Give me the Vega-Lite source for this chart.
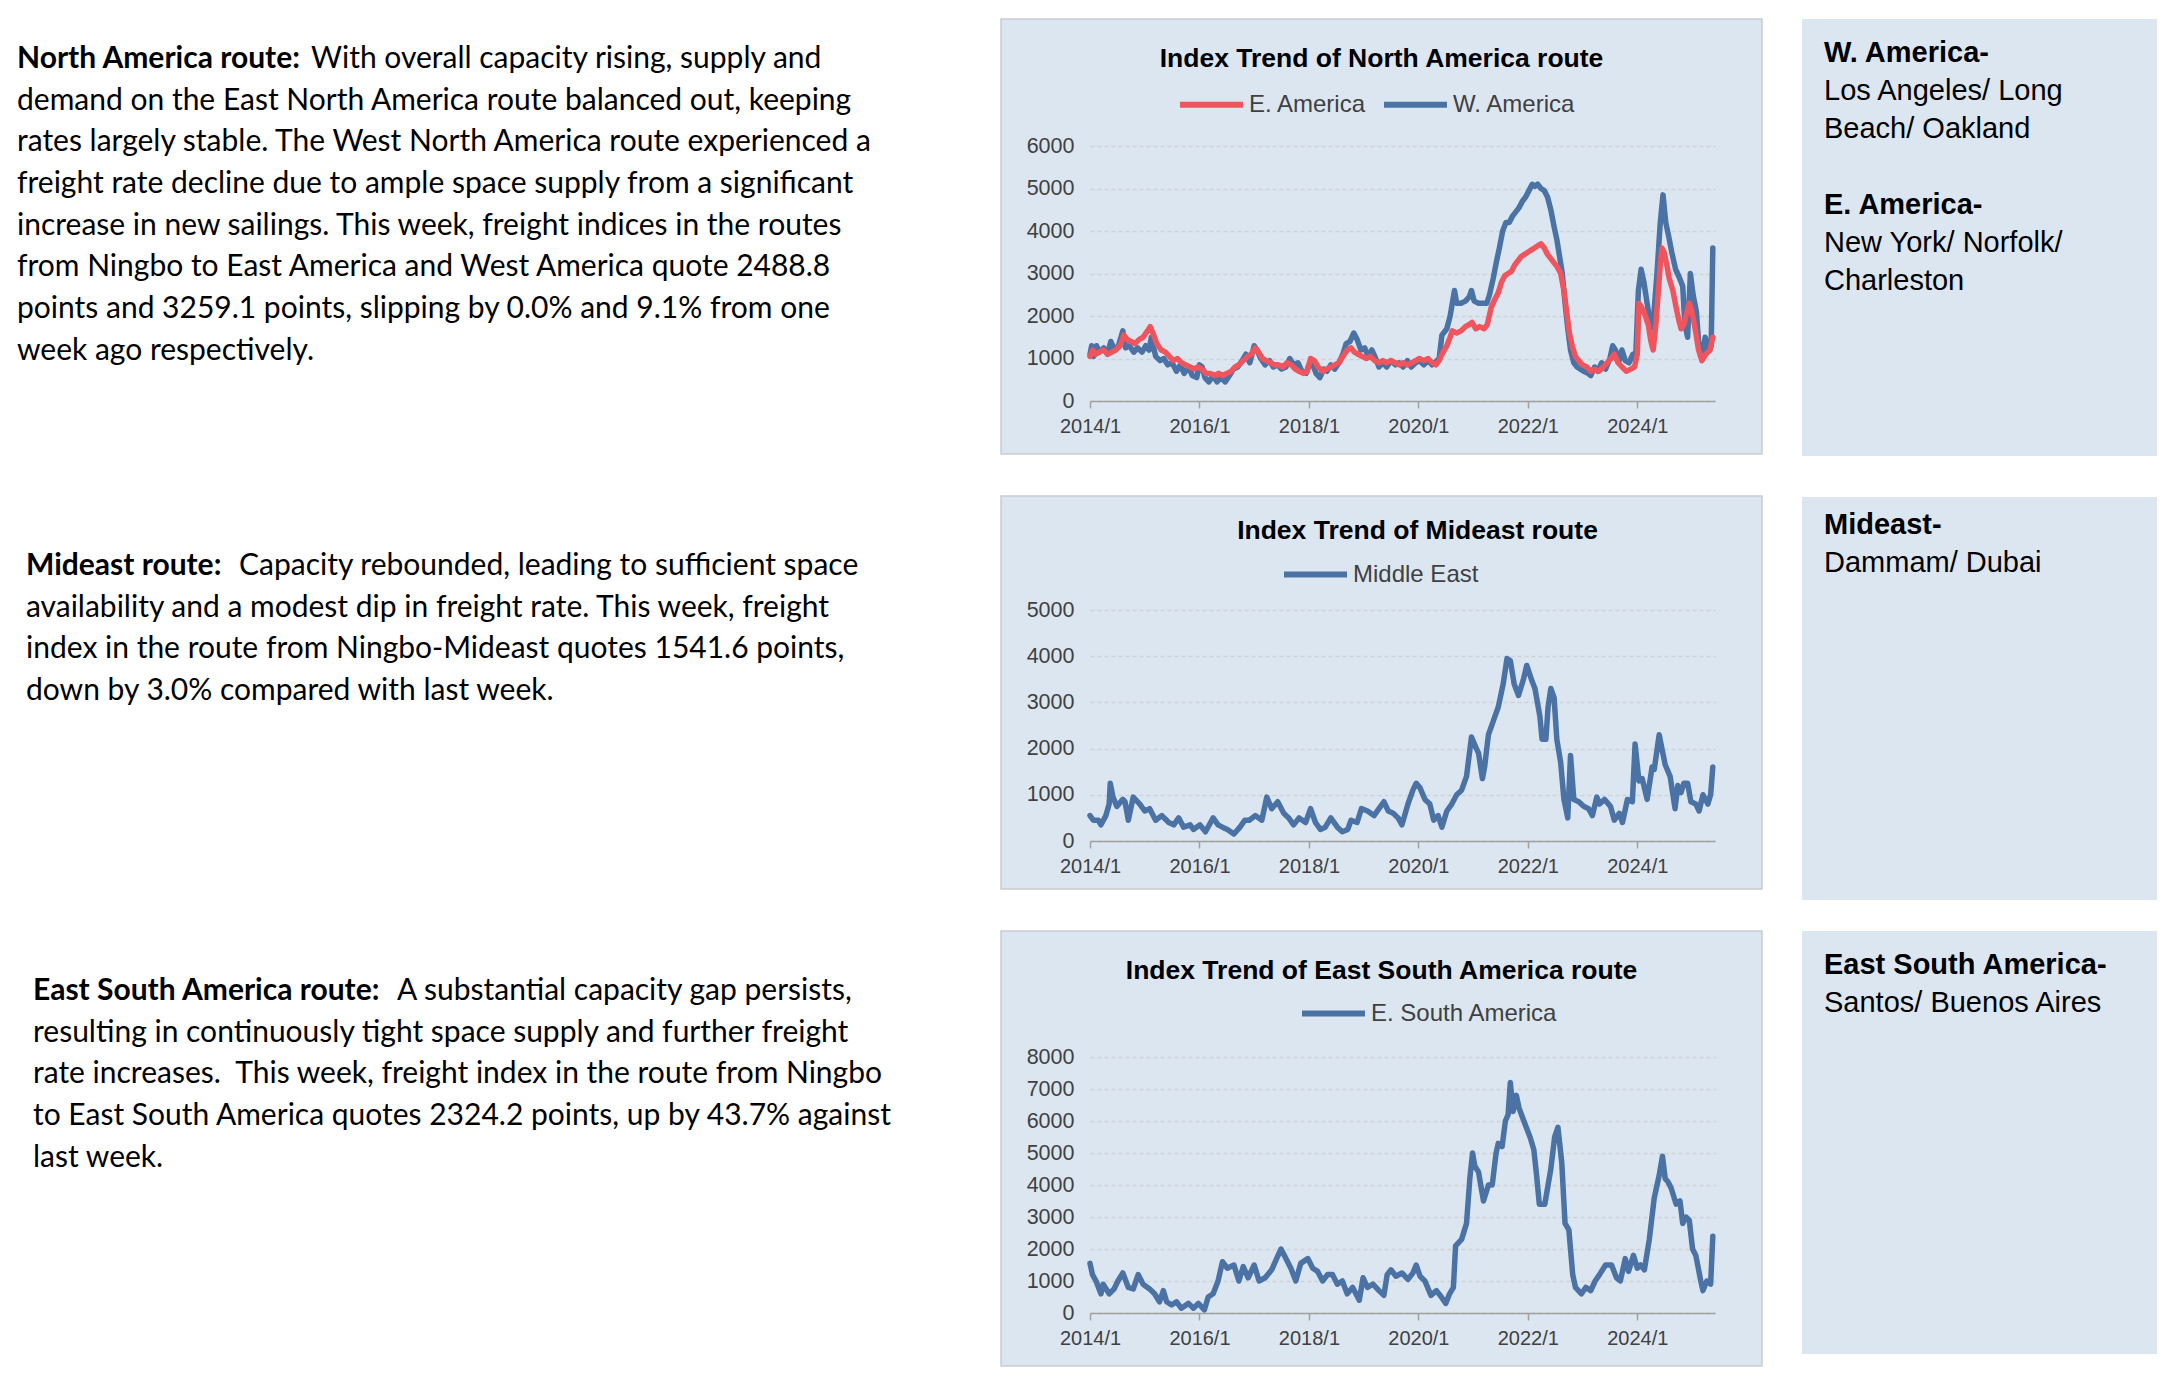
{
"$schema": "https://vega.github.io/schema/vega-lite/v6.json",
"background": "white",
"padding": {"left": 0, "top": 18, "right": 0, "bottom": 0},
"spacing": 39,
"resolve": {"scale": {"color": "independent"}, "legend": {"color": "independent"}},
"config": {
  "view": {"stroke": null},
  "font": "Liberation Sans",
  "axis": {"labelFont": "Liberation Sans", "labelColor": "#404040", "title": null, "labelFlush": false},
  "legend": {"labelFont": "Liberation Sans", "labelColor": "#404040", "labelFontSize": 24, "labelLimit": 500, "symbolType": "stroke", "symbolSize": 3969, "symbolStrokeWidth": 6, "labelOffset": 3, "columnPadding": 5, "padding": 0, "direction": "horizontal", "title": null, "orient": "none"}
},
"hconcat": [
{
  "spacing": 42,
  "vconcat": [
  {
    "width": 961, "height": 435,
    "encoding": {
      "x": {"datum": 0, "type": "quantitative", "scale": {"domain": [-17, 944], "nice": false}, "axis": null},
      "y": {"field": "line", "type": "quantitative", "scale": {"domain": [0.041, 10.473], "nice": false, "reverse": true}, "axis": null},
      "text": {"field": "text", "type": "nominal"}
    },
    "layer": [
      {"data": {"values": [{"line": 1, "text": "North America route:"}]},
       "mark": {"type": "text", "align": "left", "baseline": "middle", "font": "Lato", "fontSize": 30, "fontWeight": "bold", "color": "#000000"}},
      {"data": {"values": [{"line": 1, "text": "With overall capacity rising, supply and"}]},
       "mark": {"type": "text", "align": "left", "baseline": "middle", "font": "Lato", "fontSize": 30, "color": "#000000", "dx": 294}},
      {"data": {"values": [
        {"line": 2, "text": "demand on the East North America route balanced out, keeping"},
        {"line": 3, "text": "rates largely stable. The West North America route experienced a"},
        {"line": 4, "text": "freight rate decline due to ample space supply from a significant"},
        {"line": 5, "text": "increase in new sailings. This week, freight indices in the routes"},
        {"line": 6, "text": "from Ningbo to East America and West America quote 2488.8"},
        {"line": 7, "text": "points and 3259.1 points, slipping by 0.0% and 9.1% from one"},
        {"line": 8, "text": "week ago respectively."}]},
       "mark": {"type": "text", "align": "left", "baseline": "middle", "font": "Lato", "fontSize": 30, "color": "#000000"}}
    ]
  },
  {
    "width": 961, "height": 395,
    "encoding": {
      "x": {"datum": 0, "type": "quantitative", "scale": {"domain": [-26, 935], "nice": false}, "axis": null},
      "y": {"field": "line", "type": "quantitative", "scale": {"domain": [-0.679, 8.793], "nice": false, "reverse": true}, "axis": null},
      "text": {"field": "text", "type": "nominal"}
    },
    "layer": [
      {"data": {"values": [{"line": 1, "text": "Mideast route:"}]},
       "mark": {"type": "text", "align": "left", "baseline": "middle", "font": "Lato", "fontSize": 30, "fontWeight": "bold", "color": "#000000"}},
      {"data": {"values": [{"line": 1, "text": "Capacity rebounded, leading to sufficient space"}]},
       "mark": {"type": "text", "align": "left", "baseline": "middle", "font": "Lato", "fontSize": 30, "color": "#000000", "dx": 213}},
      {"data": {"values": [
        {"line": 2, "text": "availability and a modest dip in freight rate. This week, freight"},
        {"line": 3, "text": "index in the route from Ningbo-Mideast quotes 1541.6 points,"},
        {"line": 4, "text": "down by 3.0% compared with last week."}]},
       "mark": {"type": "text", "align": "left", "baseline": "middle", "font": "Lato", "fontSize": 30, "color": "#000000"}}
    ]
  },
  {
    "width": 961, "height": 433,
    "encoding": {
      "x": {"datum": 0, "type": "quantitative", "scale": {"domain": [-33, 928], "nice": false}, "axis": null},
      "y": {"field": "line", "type": "quantitative", "scale": {"domain": [-0.391, 9.993], "nice": false, "reverse": true}, "axis": null},
      "text": {"field": "text", "type": "nominal"}
    },
    "layer": [
      {"data": {"values": [{"line": 1, "text": "East South America route:"}]},
       "mark": {"type": "text", "align": "left", "baseline": "middle", "font": "Lato", "fontSize": 30, "fontWeight": "bold", "color": "#000000"}},
      {"data": {"values": [{"line": 1, "text": "A substantial capacity gap persists,"}]},
       "mark": {"type": "text", "align": "left", "baseline": "middle", "font": "Lato", "fontSize": 30, "color": "#000000", "dx": 364}},
      {"data": {"values": [
        {"line": 2, "text": "resulting in continuously tight space supply and further freight"},
        {"line": 3, "text": "rate increases.\u00a0 This week, freight index in the route from Ningbo"},
        {"line": 4, "text": "to East South America quotes 2324.2 points, up by 43.7% against"},
        {"line": 5, "text": "last week."}]},
       "mark": {"type": "text", "align": "left", "baseline": "middle", "font": "Lato", "fontSize": 30, "color": "#000000"}}
    ]
  }
  ]
},
{
  "spacing": 40,
  "resolve": {"scale": {"color": "independent"}, "legend": {"color": "independent"}},
  "vconcat": [
  {
    "width": 761, "height": 435,
    "view": {"fill": "#dce6f1", "stroke": "#c9ccd0", "strokeWidth": 1.5},
    "title": {"text": "Index Trend of North America route", "anchor": "middle", "frame": "group", "offset": -66, "baseline": "middle", "fontSize": 26.5, "fontWeight": "bold", "font": "Liberation Sans", "color": "#000000"},
    "data": {"values": [
{"route":"W. America","time":2014.0,"index":1100},{"route":"W. America","time":2014.03,"index":1300},{"route":"W. America","time":2014.07,"index":1050},{"route":"W. America","time":2014.12,"index":1300},{"route":"W. America","time":2014.17,"index":1150},{"route":"W. America","time":2014.25,"index":1250},{"route":"W. America","time":2014.32,"index":1100},{"route":"W. America","time":2014.38,"index":1400},{"route":"W. America","time":2014.45,"index":1200},{"route":"W. America","time":2014.52,"index":1300},{"route":"W. America","time":2014.6,"index":1650},{"route":"W. America","time":2014.65,"index":1250},{"route":"W. America","time":2014.72,"index":1300},{"route":"W. America","time":2014.8,"index":1150},{"route":"W. America","time":2014.87,"index":1250},{"route":"W. America","time":2014.95,"index":1150},{"route":"W. America","time":2015.02,"index":1300},{"route":"W. America","time":2015.08,"index":1200},{"route":"W. America","time":2015.12,"index":1500},{"route":"W. America","time":2015.2,"index":1050},{"route":"W. America","time":2015.28,"index":950},{"route":"W. America","time":2015.35,"index":1000},{"route":"W. America","time":2015.42,"index":850},{"route":"W. America","time":2015.5,"index":900},{"route":"W. America","time":2015.58,"index":700},{"route":"W. America","time":2015.65,"index":850},{"route":"W. America","time":2015.72,"index":650},{"route":"W. America","time":2015.8,"index":800},{"route":"W. America","time":2015.87,"index":600},{"route":"W. America","time":2015.95,"index":550},{"route":"W. America","time":2016.0,"index":850},{"route":"W. America","time":2016.05,"index":800},{"route":"W. America","time":2016.1,"index":550},{"route":"W. America","time":2016.17,"index":450},{"route":"W. America","time":2016.25,"index":600},{"route":"W. America","time":2016.32,"index":450},{"route":"W. America","time":2016.4,"index":550},{"route":"W. America","time":2016.47,"index":450},{"route":"W. America","time":2016.55,"index":600},{"route":"W. America","time":2016.62,"index":750},{"route":"W. America","time":2016.7,"index":800},{"route":"W. America","time":2016.78,"index":950},{"route":"W. America","time":2016.85,"index":1100},{"route":"W. America","time":2016.92,"index":900},{"route":"W. America","time":2017.0,"index":1300},{"route":"W. America","time":2017.05,"index":1200},{"route":"W. America","time":2017.12,"index":1000},{"route":"W. America","time":2017.2,"index":850},{"route":"W. America","time":2017.28,"index":950},{"route":"W. America","time":2017.35,"index":800},{"route":"W. America","time":2017.42,"index":850},{"route":"W. America","time":2017.5,"index":750},{"route":"W. America","time":2017.58,"index":800},{"route":"W. America","time":2017.65,"index":1000},{"route":"W. America","time":2017.72,"index":850},{"route":"W. America","time":2017.8,"index":900},{"route":"W. America","time":2017.87,"index":700},{"route":"W. America","time":2017.95,"index":650},{"route":"W. America","time":2018.0,"index":850},{"route":"W. America","time":2018.07,"index":850},{"route":"W. America","time":2018.13,"index":650},{"route":"W. America","time":2018.2,"index":550},{"route":"W. America","time":2018.27,"index":750},{"route":"W. America","time":2018.33,"index":700},{"route":"W. America","time":2018.4,"index":850},{"route":"W. America","time":2018.47,"index":750},{"route":"W. America","time":2018.55,"index":900},{"route":"W. America","time":2018.62,"index":1100},{"route":"W. America","time":2018.68,"index":1350},{"route":"W. America","time":2018.75,"index":1400},{"route":"W. America","time":2018.82,"index":1600},{"route":"W. America","time":2018.88,"index":1450},{"route":"W. America","time":2018.95,"index":1200},{"route":"W. America","time":2019.02,"index":1250},{"route":"W. America","time":2019.08,"index":1050},{"route":"W. America","time":2019.15,"index":1200},{"route":"W. America","time":2019.22,"index":1000},{"route":"W. America","time":2019.28,"index":800},{"route":"W. America","time":2019.35,"index":900},{"route":"W. America","time":2019.42,"index":800},{"route":"W. America","time":2019.5,"index":950},{"route":"W. America","time":2019.58,"index":850},{"route":"W. America","time":2019.65,"index":900},{"route":"W. America","time":2019.72,"index":800},{"route":"W. America","time":2019.8,"index":950},{"route":"W. America","time":2019.87,"index":800},{"route":"W. America","time":2019.95,"index":900},{"route":"W. America","time":2020.02,"index":950},{"route":"W. America","time":2020.1,"index":850},{"route":"W. America","time":2020.18,"index":950},{"route":"W. America","time":2020.25,"index":850},{"route":"W. America","time":2020.3,"index":900},{"route":"W. America","time":2020.38,"index":1000},{"route":"W. America","time":2020.43,"index":1550},{"route":"W. America","time":2020.52,"index":1700},{"route":"W. America","time":2020.58,"index":2000},{"route":"W. America","time":2020.62,"index":2300},{"route":"W. America","time":2020.66,"index":2600},{"route":"W. America","time":2020.7,"index":2300},{"route":"W. America","time":2020.78,"index":2300},{"route":"W. America","time":2020.86,"index":2350},{"route":"W. America","time":2020.93,"index":2450},{"route":"W. America","time":2020.97,"index":2600},{"route":"W. America","time":2021.02,"index":2350},{"route":"W. America","time":2021.1,"index":2300},{"route":"W. America","time":2021.18,"index":2300},{"route":"W. America","time":2021.25,"index":2300},{"route":"W. America","time":2021.3,"index":2500},{"route":"W. America","time":2021.37,"index":2900},{"route":"W. America","time":2021.43,"index":3300},{"route":"W. America","time":2021.48,"index":3600},{"route":"W. America","time":2021.54,"index":4000},{"route":"W. America","time":2021.6,"index":4200},{"route":"W. America","time":2021.66,"index":4200},{"route":"W. America","time":2021.72,"index":4350},{"route":"W. America","time":2021.78,"index":4450},{"route":"W. America","time":2021.84,"index":4550},{"route":"W. America","time":2021.9,"index":4700},{"route":"W. America","time":2021.96,"index":4800},{"route":"W. America","time":2022.02,"index":4950},{"route":"W. America","time":2022.08,"index":5100},{"route":"W. America","time":2022.13,"index":5050},{"route":"W. America","time":2022.18,"index":5100},{"route":"W. America","time":2022.24,"index":5000},{"route":"W. America","time":2022.3,"index":4950},{"route":"W. America","time":2022.36,"index":4800},{"route":"W. America","time":2022.42,"index":4500},{"route":"W. America","time":2022.48,"index":4100},{"route":"W. America","time":2022.53,"index":3800},{"route":"W. America","time":2022.58,"index":3400},{"route":"W. America","time":2022.63,"index":3000},{"route":"W. America","time":2022.68,"index":2300},{"route":"W. America","time":2022.73,"index":1700},{"route":"W. America","time":2022.78,"index":1200},{"route":"W. America","time":2022.84,"index":900},{"route":"W. America","time":2022.9,"index":800},{"route":"W. America","time":2022.96,"index":750},{"route":"W. America","time":2023.02,"index":700},{"route":"W. America","time":2023.1,"index":650},{"route":"W. America","time":2023.15,"index":600},{"route":"W. America","time":2023.22,"index":800},{"route":"W. America","time":2023.28,"index":700},{"route":"W. America","time":2023.35,"index":900},{"route":"W. America","time":2023.42,"index":750},{"route":"W. America","time":2023.5,"index":1000},{"route":"W. America","time":2023.55,"index":1300},{"route":"W. America","time":2023.6,"index":1200},{"route":"W. America","time":2023.67,"index":950},{"route":"W. America","time":2023.72,"index":1200},{"route":"W. America","time":2023.78,"index":950},{"route":"W. America","time":2023.85,"index":900},{"route":"W. America","time":2023.92,"index":1100},{"route":"W. America","time":2023.97,"index":1000},{"route":"W. America","time":2024.02,"index":2600},{"route":"W. America","time":2024.07,"index":3100},{"route":"W. America","time":2024.12,"index":2800},{"route":"W. America","time":2024.18,"index":2300},{"route":"W. America","time":2024.25,"index":1700},{"route":"W. America","time":2024.3,"index":2000},{"route":"W. America","time":2024.36,"index":3000},{"route":"W. America","time":2024.42,"index":4200},{"route":"W. America","time":2024.47,"index":4850},{"route":"W. America","time":2024.52,"index":4200},{"route":"W. America","time":2024.57,"index":3900},{"route":"W. America","time":2024.63,"index":3500},{"route":"W. America","time":2024.7,"index":3100},{"route":"W. America","time":2024.77,"index":2900},{"route":"W. America","time":2024.83,"index":2700},{"route":"W. America","time":2024.87,"index":1800},{"route":"W. America","time":2024.92,"index":1500},{"route":"W. America","time":2024.97,"index":3000},{"route":"W. America","time":2025.02,"index":2500},{"route":"W. America","time":2025.08,"index":2100},{"route":"W. America","time":2025.12,"index":1400},{"route":"W. America","time":2025.18,"index":1000},{"route":"W. America","time":2025.24,"index":1500},{"route":"W. America","time":2025.3,"index":1200},{"route":"W. America","time":2025.35,"index":1300},{"route":"W. America","time":2025.38,"index":3600},
{"route":"E. America","time":2014.0,"index":1050},{"route":"E. America","time":2014.05,"index":1200},{"route":"E. America","time":2014.1,"index":1100},{"route":"E. America","time":2014.17,"index":1150},{"route":"E. America","time":2014.25,"index":1200},{"route":"E. America","time":2014.32,"index":1100},{"route":"E. America","time":2014.4,"index":1150},{"route":"E. America","time":2014.47,"index":1200},{"route":"E. America","time":2014.55,"index":1300},{"route":"E. America","time":2014.62,"index":1550},{"route":"E. America","time":2014.68,"index":1450},{"route":"E. America","time":2014.75,"index":1400},{"route":"E. America","time":2014.82,"index":1350},{"route":"E. America","time":2014.9,"index":1450},{"route":"E. America","time":2014.97,"index":1500},{"route":"E. America","time":2015.05,"index":1650},{"route":"E. America","time":2015.1,"index":1750},{"route":"E. America","time":2015.15,"index":1600},{"route":"E. America","time":2015.22,"index":1350},{"route":"E. America","time":2015.3,"index":1200},{"route":"E. America","time":2015.38,"index":1150},{"route":"E. America","time":2015.45,"index":1050},{"route":"E. America","time":2015.52,"index":950},{"route":"E. America","time":2015.6,"index":1000},{"route":"E. America","time":2015.67,"index":900},{"route":"E. America","time":2015.75,"index":850},{"route":"E. America","time":2015.83,"index":800},{"route":"E. America","time":2015.9,"index":750},{"route":"E. America","time":2015.97,"index":800},{"route":"E. America","time":2016.05,"index":750},{"route":"E. America","time":2016.12,"index":650},{"route":"E. America","time":2016.2,"index":650},{"route":"E. America","time":2016.28,"index":600},{"route":"E. America","time":2016.35,"index":650},{"route":"E. America","time":2016.42,"index":600},{"route":"E. America","time":2016.5,"index":650},{"route":"E. America","time":2016.58,"index":700},{"route":"E. America","time":2016.65,"index":800},{"route":"E. America","time":2016.72,"index":850},{"route":"E. America","time":2016.8,"index":950},{"route":"E. America","time":2016.88,"index":1050},{"route":"E. America","time":2016.95,"index":1100},{"route":"E. America","time":2017.02,"index":1250},{"route":"E. America","time":2017.08,"index":1150},{"route":"E. America","time":2017.15,"index":1000},{"route":"E. America","time":2017.22,"index":950},{"route":"E. America","time":2017.3,"index":900},{"route":"E. America","time":2017.38,"index":850},{"route":"E. America","time":2017.45,"index":850},{"route":"E. America","time":2017.52,"index":800},{"route":"E. America","time":2017.6,"index":900},{"route":"E. America","time":2017.68,"index":850},{"route":"E. America","time":2017.75,"index":750},{"route":"E. America","time":2017.82,"index":700},{"route":"E. America","time":2017.9,"index":650},{"route":"E. America","time":2017.97,"index":700},{"route":"E. America","time":2018.03,"index":1000},{"route":"E. America","time":2018.1,"index":950},{"route":"E. America","time":2018.17,"index":800},{"route":"E. America","time":2018.25,"index":700},{"route":"E. America","time":2018.32,"index":750},{"route":"E. America","time":2018.4,"index":800},{"route":"E. America","time":2018.47,"index":850},{"route":"E. America","time":2018.55,"index":900},{"route":"E. America","time":2018.62,"index":1050},{"route":"E. America","time":2018.7,"index":1200},{"route":"E. America","time":2018.77,"index":1250},{"route":"E. America","time":2018.83,"index":1150},{"route":"E. America","time":2018.9,"index":1100},{"route":"E. America","time":2018.97,"index":1050},{"route":"E. America","time":2019.05,"index":1000},{"route":"E. America","time":2019.12,"index":1050},{"route":"E. America","time":2019.2,"index":950},{"route":"E. America","time":2019.28,"index":900},{"route":"E. America","time":2019.35,"index":950},{"route":"E. America","time":2019.42,"index":900},{"route":"E. America","time":2019.5,"index":950},{"route":"E. America","time":2019.58,"index":900},{"route":"E. America","time":2019.65,"index":850},{"route":"E. America","time":2019.72,"index":900},{"route":"E. America","time":2019.8,"index":850},{"route":"E. America","time":2019.88,"index":900},{"route":"E. America","time":2019.95,"index":950},{"route":"E. America","time":2020.02,"index":1000},{"route":"E. America","time":2020.1,"index":950},{"route":"E. America","time":2020.18,"index":1000},{"route":"E. America","time":2020.25,"index":900},{"route":"E. America","time":2020.32,"index":850},{"route":"E. America","time":2020.38,"index":950},{"route":"E. America","time":2020.43,"index":1100},{"route":"E. America","time":2020.52,"index":1300},{"route":"E. America","time":2020.58,"index":1500},{"route":"E. America","time":2020.62,"index":1650},{"route":"E. America","time":2020.7,"index":1600},{"route":"E. America","time":2020.78,"index":1650},{"route":"E. America","time":2020.86,"index":1750},{"route":"E. America","time":2020.93,"index":1800},{"route":"E. America","time":2020.98,"index":1850},{"route":"E. America","time":2021.05,"index":1700},{"route":"E. America","time":2021.12,"index":1750},{"route":"E. America","time":2021.2,"index":1700},{"route":"E. America","time":2021.26,"index":1800},{"route":"E. America","time":2021.33,"index":2200},{"route":"E. America","time":2021.4,"index":2400},{"route":"E. America","time":2021.46,"index":2550},{"route":"E. America","time":2021.52,"index":2800},{"route":"E. America","time":2021.58,"index":2950},{"route":"E. America","time":2021.64,"index":3000},{"route":"E. America","time":2021.7,"index":3050},{"route":"E. America","time":2021.76,"index":3200},{"route":"E. America","time":2021.82,"index":3300},{"route":"E. America","time":2021.88,"index":3400},{"route":"E. America","time":2021.94,"index":3450},{"route":"E. America","time":2022.0,"index":3500},{"route":"E. America","time":2022.06,"index":3550},{"route":"E. America","time":2022.12,"index":3600},{"route":"E. America","time":2022.18,"index":3650},{"route":"E. America","time":2022.24,"index":3700},{"route":"E. America","time":2022.3,"index":3600},{"route":"E. America","time":2022.36,"index":3450},{"route":"E. America","time":2022.42,"index":3350},{"route":"E. America","time":2022.48,"index":3250},{"route":"E. America","time":2022.54,"index":3150},{"route":"E. America","time":2022.6,"index":3000},{"route":"E. America","time":2022.66,"index":2600},{"route":"E. America","time":2022.71,"index":2100},{"route":"E. America","time":2022.76,"index":1600},{"route":"E. America","time":2022.81,"index":1300},{"route":"E. America","time":2022.87,"index":1050},{"route":"E. America","time":2022.93,"index":950},{"route":"E. America","time":2023.0,"index":850},{"route":"E. America","time":2023.08,"index":800},{"route":"E. America","time":2023.15,"index":700},{"route":"E. America","time":2023.22,"index":750},{"route":"E. America","time":2023.3,"index":700},{"route":"E. America","time":2023.38,"index":800},{"route":"E. America","time":2023.45,"index":900},{"route":"E. America","time":2023.52,"index":1000},{"route":"E. America","time":2023.58,"index":1100},{"route":"E. America","time":2023.65,"index":900},{"route":"E. America","time":2023.72,"index":800},{"route":"E. America","time":2023.8,"index":700},{"route":"E. America","time":2023.88,"index":750},{"route":"E. America","time":2023.95,"index":800},{"route":"E. America","time":2024.0,"index":1100},{"route":"E. America","time":2024.03,"index":2300},{"route":"E. America","time":2024.08,"index":2200},{"route":"E. America","time":2024.12,"index":2100},{"route":"E. America","time":2024.2,"index":1800},{"route":"E. America","time":2024.25,"index":1400},{"route":"E. America","time":2024.29,"index":1200},{"route":"E. America","time":2024.34,"index":1800},{"route":"E. America","time":2024.38,"index":2500},{"route":"E. America","time":2024.42,"index":3200},{"route":"E. America","time":2024.45,"index":3600},{"route":"E. America","time":2024.49,"index":3500},{"route":"E. America","time":2024.54,"index":3200},{"route":"E. America","time":2024.58,"index":2900},{"route":"E. America","time":2024.65,"index":2600},{"route":"E. America","time":2024.71,"index":2200},{"route":"E. America","time":2024.76,"index":1900},{"route":"E. America","time":2024.8,"index":1700},{"route":"E. America","time":2024.85,"index":1800},{"route":"E. America","time":2024.89,"index":2000},{"route":"E. America","time":2024.95,"index":2300},{"route":"E. America","time":2024.98,"index":2200},{"route":"E. America","time":2025.03,"index":1900},{"route":"E. America","time":2025.07,"index":1600},{"route":"E. America","time":2025.12,"index":1200},{"route":"E. America","time":2025.18,"index":950},{"route":"E. America","time":2025.25,"index":1100},{"route":"E. America","time":2025.33,"index":1200},{"route":"E. America","time":2025.38,"index":1500}
    ]},
    "mark": {"type": "line", "strokeWidth": 5.5, "strokeJoin": "round", "strokeCap": "round"},
    "encoding": {
      "x": {"field": "time", "type": "quantitative", "scale": {"domain": [2014, 2025.42], "range": [89, 714], "nice": false, "zero": false},
            "axis": {"values": [2014, 2016, 2018, 2020, 2022, 2024], "labelExpr": "datum.value + '/1'", "offset": -53, "grid": false, "domainColor": "#a0a0a0", "domainWidth": 1.5, "tickColor": "#a0a0a0", "tickWidth": 1.5, "tickSize": 7, "labelPadding": 8, "labelFontSize": 20}},
      "y": {"field": "index", "type": "quantitative", "scale": {"domain": [0, 6000], "range": [382, 127], "nice": false},
            "axis": {"values": [0, 1000, 2000, 3000, 4000, 5000, 6000], "format": "d", "offset": -89, "domain": false, "ticks": false, "labelPadding": 16, "grid": true, "gridColor": "#cdd2d8", "gridDash": [4, 3], "gridWidth": 1.5, "labelFontSize": 21.5}},
      "color": {"field": "route", "type": "nominal", "scale": {"domain": ["E. America", "W. America"], "range": ["#f0545c", "#4a72a4"]},
                "legend": {"legendX": 176, "legendY": 51}}
    }
  },
  {
    "width": 761, "height": 393,
    "view": {"fill": "#dce6f1", "stroke": "#c9ccd0", "strokeWidth": 1.5},
    "title": {"text": "Index Trend of Mideast route", "anchor": "middle", "frame": "group", "offset": -61, "dx": 36, "baseline": "middle", "fontSize": 26.5, "fontWeight": "bold", "font": "Liberation Sans", "color": "#000000"},
    "data": {"values": [
{"route":"Middle East","time":2014.0,"index":550},{"route":"Middle East","time":2014.06,"index":450},{"route":"Middle East","time":2014.15,"index":450},{"route":"Middle East","time":2014.2,"index":350},{"route":"Middle East","time":2014.29,"index":550},{"route":"Middle East","time":2014.35,"index":800},{"route":"Middle East","time":2014.37,"index":1250},{"route":"Middle East","time":2014.42,"index":950},{"route":"Middle East","time":2014.49,"index":750},{"route":"Middle East","time":2014.6,"index":900},{"route":"Middle East","time":2014.64,"index":850},{"route":"Middle East","time":2014.7,"index":450},{"route":"Middle East","time":2014.79,"index":950},{"route":"Middle East","time":2014.91,"index":800},{"route":"Middle East","time":2015.0,"index":650},{"route":"Middle East","time":2015.09,"index":700},{"route":"Middle East","time":2015.2,"index":450},{"route":"Middle East","time":2015.31,"index":550},{"route":"Middle East","time":2015.44,"index":400},{"route":"Middle East","time":2015.53,"index":350},{"route":"Middle East","time":2015.62,"index":500},{"route":"Middle East","time":2015.71,"index":300},{"route":"Middle East","time":2015.83,"index":350},{"route":"Middle East","time":2015.89,"index":250},{"route":"Middle East","time":2016.01,"index":350},{"route":"Middle East","time":2016.11,"index":200},{"route":"Middle East","time":2016.25,"index":500},{"route":"Middle East","time":2016.34,"index":350},{"route":"Middle East","time":2016.42,"index":300},{"route":"Middle East","time":2016.51,"index":250},{"route":"Middle East","time":2016.63,"index":150},{"route":"Middle East","time":2016.74,"index":300},{"route":"Middle East","time":2016.83,"index":450},{"route":"Middle East","time":2016.91,"index":450},{"route":"Middle East","time":2017.02,"index":550},{"route":"Middle East","time":2017.14,"index":450},{"route":"Middle East","time":2017.23,"index":950},{"route":"Middle East","time":2017.32,"index":700},{"route":"Middle East","time":2017.43,"index":850},{"route":"Middle East","time":2017.54,"index":600},{"route":"Middle East","time":2017.63,"index":500},{"route":"Middle East","time":2017.72,"index":350},{"route":"Middle East","time":2017.82,"index":500},{"route":"Middle East","time":2017.94,"index":400},{"route":"Middle East","time":2018.03,"index":700},{"route":"Middle East","time":2018.12,"index":400},{"route":"Middle East","time":2018.21,"index":250},{"route":"Middle East","time":2018.3,"index":300},{"route":"Middle East","time":2018.4,"index":500},{"route":"Middle East","time":2018.52,"index":300},{"route":"Middle East","time":2018.61,"index":200},{"route":"Middle East","time":2018.71,"index":250},{"route":"Middle East","time":2018.77,"index":450},{"route":"Middle East","time":2018.88,"index":400},{"route":"Middle East","time":2018.96,"index":700},{"route":"Middle East","time":2019.07,"index":650},{"route":"Middle East","time":2019.19,"index":550},{"route":"Middle East","time":2019.28,"index":700},{"route":"Middle East","time":2019.37,"index":850},{"route":"Middle East","time":2019.45,"index":650},{"route":"Middle East","time":2019.54,"index":600},{"route":"Middle East","time":2019.63,"index":500},{"route":"Middle East","time":2019.7,"index":350},{"route":"Middle East","time":2019.81,"index":800},{"route":"Middle East","time":2019.9,"index":1100},{"route":"Middle East","time":2019.96,"index":1250},{"route":"Middle East","time":2020.03,"index":1150},{"route":"Middle East","time":2020.12,"index":900},{"route":"Middle East","time":2020.21,"index":800},{"route":"Middle East","time":2020.28,"index":450},{"route":"Middle East","time":2020.36,"index":550},{"route":"Middle East","time":2020.43,"index":300},{"route":"Middle East","time":2020.52,"index":650},{"route":"Middle East","time":2020.61,"index":800},{"route":"Middle East","time":2020.7,"index":1000},{"route":"Middle East","time":2020.79,"index":1100},{"route":"Middle East","time":2020.88,"index":1400},{"route":"Middle East","time":2020.97,"index":2250},{"route":"Middle East","time":2021.06,"index":2000},{"route":"Middle East","time":2021.1,"index":1900},{"route":"Middle East","time":2021.17,"index":1350},{"route":"Middle East","time":2021.21,"index":1600},{"route":"Middle East","time":2021.28,"index":2300},{"route":"Middle East","time":2021.37,"index":2600},{"route":"Middle East","time":2021.46,"index":2900},{"route":"Middle East","time":2021.55,"index":3400},{"route":"Middle East","time":2021.62,"index":3950},{"route":"Middle East","time":2021.68,"index":3900},{"route":"Middle East","time":2021.75,"index":3400},{"route":"Middle East","time":2021.83,"index":3150},{"route":"Middle East","time":2021.92,"index":3500},{"route":"Middle East","time":2021.98,"index":3800},{"route":"Middle East","time":2022.08,"index":3450},{"route":"Middle East","time":2022.13,"index":3300},{"route":"Middle East","time":2022.22,"index":2700},{"route":"Middle East","time":2022.26,"index":2200},{"route":"Middle East","time":2022.33,"index":2200},{"route":"Middle East","time":2022.37,"index":2900},{"route":"Middle East","time":2022.42,"index":3300},{"route":"Middle East","time":2022.48,"index":3100},{"route":"Middle East","time":2022.53,"index":2200},{"route":"Middle East","time":2022.6,"index":1700},{"route":"Middle East","time":2022.66,"index":900},{"route":"Middle East","time":2022.73,"index":500},{"route":"Middle East","time":2022.78,"index":1850},{"route":"Middle East","time":2022.84,"index":900},{"route":"Middle East","time":2022.93,"index":850},{"route":"Middle East","time":2023.02,"index":750},{"route":"Middle East","time":2023.11,"index":700},{"route":"Middle East","time":2023.18,"index":550},{"route":"Middle East","time":2023.26,"index":950},{"route":"Middle East","time":2023.31,"index":800},{"route":"Middle East","time":2023.4,"index":900},{"route":"Middle East","time":2023.51,"index":750},{"route":"Middle East","time":2023.58,"index":450},{"route":"Middle East","time":2023.67,"index":600},{"route":"Middle East","time":2023.73,"index":400},{"route":"Middle East","time":2023.82,"index":900},{"route":"Middle East","time":2023.91,"index":850},{"route":"Middle East","time":2023.96,"index":2100},{"route":"Middle East","time":2024.03,"index":1300},{"route":"Middle East","time":2024.09,"index":1350},{"route":"Middle East","time":2024.18,"index":900},{"route":"Middle East","time":2024.27,"index":1600},{"route":"Middle East","time":2024.31,"index":1550},{"route":"Middle East","time":2024.4,"index":2300},{"route":"Middle East","time":2024.45,"index":2000},{"route":"Middle East","time":2024.51,"index":1650},{"route":"Middle East","time":2024.6,"index":1400},{"route":"Middle East","time":2024.69,"index":700},{"route":"Middle East","time":2024.74,"index":1200},{"route":"Middle East","time":2024.8,"index":1050},{"route":"Middle East","time":2024.85,"index":1250},{"route":"Middle East","time":2024.92,"index":1250},{"route":"Middle East","time":2024.98,"index":850},{"route":"Middle East","time":2025.07,"index":800},{"route":"Middle East","time":2025.13,"index":650},{"route":"Middle East","time":2025.2,"index":1000},{"route":"Middle East","time":2025.29,"index":800},{"route":"Middle East","time":2025.34,"index":1000},{"route":"Middle East","time":2025.38,"index":1600}
    ]},
    "mark": {"type": "line", "strokeWidth": 5.5, "strokeJoin": "round", "strokeCap": "round"},
    "encoding": {
      "x": {"field": "time", "type": "quantitative", "scale": {"domain": [2014, 2025.42], "range": [89, 714], "nice": false, "zero": false},
            "axis": {"values": [2014, 2016, 2018, 2020, 2022, 2024], "labelExpr": "datum.value + '/1'", "offset": -48, "grid": false, "domainColor": "#a0a0a0", "domainWidth": 1.5, "tickColor": "#a0a0a0", "tickWidth": 1.5, "tickSize": 7, "labelPadding": 8, "labelFontSize": 20}},
      "y": {"field": "index", "type": "quantitative", "scale": {"domain": [0, 5000], "range": [345, 114], "nice": false},
            "axis": {"values": [0, 1000, 2000, 3000, 4000, 5000], "format": "d", "offset": -89, "domain": false, "ticks": false, "labelPadding": 16, "grid": true, "gridColor": "#cdd2d8", "gridDash": [4, 3], "gridWidth": 1.5, "labelFontSize": 21.5}},
      "color": {"field": "route", "type": "nominal", "scale": {"domain": ["Middle East"], "range": ["#4a72a4"]},
                "legend": {"legendX": 280, "legendY": 44}}
    }
  },
  {
    "width": 761, "height": 435,
    "view": {"fill": "#dce6f1", "stroke": "#c9ccd0", "strokeWidth": 1.5},
    "title": {"text": "Index Trend of East South America route", "anchor": "middle", "frame": "group", "offset": -66, "baseline": "middle", "fontSize": 26.5, "fontWeight": "bold", "font": "Liberation Sans", "color": "#000000"},
    "data": {"values": [
{"route":"E. South America","time":2014.0,"index":1550},{"route":"E. South America","time":2014.045,"index":1200},{"route":"E. South America","time":2014.11,"index":1000},{"route":"E. South America","time":2014.2,"index":600},{"route":"E. South America","time":2014.24,"index":900},{"route":"E. South America","time":2014.35,"index":600},{"route":"E. South America","time":2014.44,"index":750},{"route":"E. South America","time":2014.51,"index":1000},{"route":"E. South America","time":2014.6,"index":1250},{"route":"E. South America","time":2014.7,"index":800},{"route":"E. South America","time":2014.79,"index":750},{"route":"E. South America","time":2014.88,"index":1200},{"route":"E. South America","time":2014.97,"index":900},{"route":"E. South America","time":2015.09,"index":750},{"route":"E. South America","time":2015.18,"index":600},{"route":"E. South America","time":2015.27,"index":350},{"route":"E. South America","time":2015.34,"index":700},{"route":"E. South America","time":2015.4,"index":350},{"route":"E. South America","time":2015.49,"index":250},{"route":"E. South America","time":2015.58,"index":350},{"route":"E. South America","time":2015.67,"index":150},{"route":"E. South America","time":2015.8,"index":300},{"route":"E. South America","time":2015.89,"index":150},{"route":"E. South America","time":2015.98,"index":300},{"route":"E. South America","time":2016.09,"index":100},{"route":"E. South America","time":2016.16,"index":500},{"route":"E. South America","time":2016.25,"index":600},{"route":"E. South America","time":2016.34,"index":1000},{"route":"E. South America","time":2016.42,"index":1600},{"route":"E. South America","time":2016.51,"index":1400},{"route":"E. South America","time":2016.63,"index":1500},{"route":"E. South America","time":2016.72,"index":1000},{"route":"E. South America","time":2016.8,"index":1450},{"route":"E. South America","time":2016.89,"index":1100},{"route":"E. South America","time":2017.0,"index":1500},{"route":"E. South America","time":2017.09,"index":1000},{"route":"E. South America","time":2017.2,"index":1100},{"route":"E. South America","time":2017.32,"index":1350},{"route":"E. South America","time":2017.41,"index":1700},{"route":"E. South America","time":2017.49,"index":2000},{"route":"E. South America","time":2017.58,"index":1700},{"route":"E. South America","time":2017.67,"index":1400},{"route":"E. South America","time":2017.76,"index":1000},{"route":"E. South America","time":2017.85,"index":1550},{"route":"E. South America","time":2017.98,"index":1700},{"route":"E. South America","time":2018.07,"index":1400},{"route":"E. South America","time":2018.16,"index":1300},{"route":"E. South America","time":2018.25,"index":1000},{"route":"E. South America","time":2018.34,"index":1200},{"route":"E. South America","time":2018.43,"index":1200},{"route":"E. South America","time":2018.52,"index":900},{"route":"E. South America","time":2018.61,"index":1000},{"route":"E. South America","time":2018.7,"index":600},{"route":"E. South America","time":2018.8,"index":800},{"route":"E. South America","time":2018.92,"index":400},{"route":"E. South America","time":2018.99,"index":1100},{"route":"E. South America","time":2019.07,"index":800},{"route":"E. South America","time":2019.17,"index":900},{"route":"E. South America","time":2019.28,"index":700},{"route":"E. South America","time":2019.37,"index":550},{"route":"E. South America","time":2019.43,"index":1200},{"route":"E. South America","time":2019.5,"index":1350},{"route":"E. South America","time":2019.59,"index":1150},{"route":"E. South America","time":2019.7,"index":1250},{"route":"E. South America","time":2019.81,"index":1050},{"route":"E. South America","time":2019.9,"index":1250},{"route":"E. South America","time":2019.96,"index":1500},{"route":"E. South America","time":2020.03,"index":1150},{"route":"E. South America","time":2020.12,"index":1000},{"route":"E. South America","time":2020.23,"index":550},{"route":"E. South America","time":2020.33,"index":700},{"route":"E. South America","time":2020.42,"index":500},{"route":"E. South America","time":2020.5,"index":300},{"route":"E. South America","time":2020.57,"index":600},{"route":"E. South America","time":2020.64,"index":800},{"route":"E. South America","time":2020.68,"index":2100},{"route":"E. South America","time":2020.79,"index":2300},{"route":"E. South America","time":2020.88,"index":2800},{"route":"E. South America","time":2020.94,"index":4200},{"route":"E. South America","time":2020.99,"index":5000},{"route":"E. South America","time":2021.03,"index":4600},{"route":"E. South America","time":2021.1,"index":4400},{"route":"E. South America","time":2021.19,"index":3500},{"route":"E. South America","time":2021.28,"index":4000},{"route":"E. South America","time":2021.35,"index":4000},{"route":"E. South America","time":2021.42,"index":5000},{"route":"E. South America","time":2021.46,"index":5300},{"route":"E. South America","time":2021.53,"index":5200},{"route":"E. South America","time":2021.59,"index":6000},{"route":"E. South America","time":2021.64,"index":6200},{"route":"E. South America","time":2021.68,"index":7200},{"route":"E. South America","time":2021.73,"index":6300},{"route":"E. South America","time":2021.79,"index":6800},{"route":"E. South America","time":2021.84,"index":6400},{"route":"E. South America","time":2021.95,"index":5900},{"route":"E. South America","time":2022.04,"index":5500},{"route":"E. South America","time":2022.11,"index":5100},{"route":"E. South America","time":2022.16,"index":4300},{"route":"E. South America","time":2022.21,"index":3400},{"route":"E. South America","time":2022.31,"index":3400},{"route":"E. South America","time":2022.42,"index":4500},{"route":"E. South America","time":2022.49,"index":5500},{"route":"E. South America","time":2022.55,"index":5800},{"route":"E. South America","time":2022.62,"index":4700},{"route":"E. South America","time":2022.68,"index":2800},{"route":"E. South America","time":2022.75,"index":2600},{"route":"E. South America","time":2022.82,"index":1200},{"route":"E. South America","time":2022.87,"index":800},{"route":"E. South America","time":2022.98,"index":600},{"route":"E. South America","time":2023.06,"index":800},{"route":"E. South America","time":2023.15,"index":700},{"route":"E. South America","time":2023.23,"index":1000},{"route":"E. South America","time":2023.31,"index":1200},{"route":"E. South America","time":2023.42,"index":1500},{"route":"E. South America","time":2023.53,"index":1500},{"route":"E. South America","time":2023.62,"index":1100},{"route":"E. South America","time":2023.69,"index":1000},{"route":"E. South America","time":2023.78,"index":1700},{"route":"E. South America","time":2023.84,"index":1300},{"route":"E. South America","time":2023.93,"index":1800},{"route":"E. South America","time":2024.0,"index":1400},{"route":"E. South America","time":2024.06,"index":1500},{"route":"E. South America","time":2024.13,"index":1350},{"route":"E. South America","time":2024.22,"index":2300},{"route":"E. South America","time":2024.31,"index":3600},{"route":"E. South America","time":2024.4,"index":4300},{"route":"E. South America","time":2024.46,"index":4900},{"route":"E. South America","time":2024.51,"index":4200},{"route":"E. South America","time":2024.56,"index":4100},{"route":"E. South America","time":2024.62,"index":3900},{"route":"E. South America","time":2024.71,"index":3400},{"route":"E. South America","time":2024.78,"index":3500},{"route":"E. South America","time":2024.83,"index":2800},{"route":"E. South America","time":2024.89,"index":3000},{"route":"E. South America","time":2024.95,"index":2900},{"route":"E. South America","time":2025.01,"index":2000},{"route":"E. South America","time":2025.07,"index":1800},{"route":"E. South America","time":2025.16,"index":1000},{"route":"E. South America","time":2025.2,"index":700},{"route":"E. South America","time":2025.27,"index":1000},{"route":"E. South America","time":2025.34,"index":900},{"route":"E. South America","time":2025.38,"index":2400}
    ]},
    "mark": {"type": "line", "strokeWidth": 5.5, "strokeJoin": "round", "strokeCap": "round"},
    "encoding": {
      "x": {"field": "time", "type": "quantitative", "scale": {"domain": [2014, 2025.42], "range": [89, 714], "nice": false, "zero": false},
            "axis": {"values": [2014, 2016, 2018, 2020, 2022, 2024], "labelExpr": "datum.value + '/1'", "offset": -53, "grid": false, "domainColor": "#a0a0a0", "domainWidth": 1.5, "tickColor": "#a0a0a0", "tickWidth": 1.5, "tickSize": 7, "labelPadding": 8, "labelFontSize": 20}},
      "y": {"field": "index", "type": "quantitative", "scale": {"domain": [0, 8000], "range": [382, 126], "nice": false},
            "axis": {"values": [0, 1000, 2000, 3000, 4000, 5000, 6000, 7000, 8000], "format": "d", "offset": -89, "domain": false, "ticks": false, "labelPadding": 16, "grid": true, "gridColor": "#cdd2d8", "gridDash": [4, 3], "gridWidth": 1.5, "labelFontSize": 21.5}},
      "color": {"field": "route", "type": "nominal", "scale": {"domain": ["E. South America"], "range": ["#4a72a4"]},
                "legend": {"legendX": 298, "legendY": 48}}
    }
  }
  ]
},
{
  "spacing": 31,
  "vconcat": [
  {
    "spacing": 41,
    "vconcat": [
    {
      "width": 355, "height": 437,
      "view": {"fill": "#dce6f1", "stroke": null},
      "encoding": {
        "x": {"datum": 0, "type": "quantitative", "scale": {"domain": [-22, 333], "nice": false}, "axis": null},
        "y": {"field": "line", "type": "quantitative", "scale": {"domain": [0.105, 11.605], "nice": false, "reverse": true}, "axis": null},
        "text": {"field": "text", "type": "nominal"}
      },
      "layer": [
        {"data": {"values": [{"line": 1, "text": "W. America-"}, {"line": 5, "text": "E. America-"}]},
         "mark": {"type": "text", "align": "left", "baseline": "middle", "font": "Liberation Sans", "fontSize": 29, "fontWeight": "bold", "color": "#000000"}},
        {"data": {"values": [{"line": 2, "text": "Los Angeles/ Long"}, {"line": 3, "text": "Beach/ Oakland"}, {"line": 6, "text": "New York/ Norfolk/"}, {"line": 7, "text": "Charleston"}]},
         "mark": {"type": "text", "align": "left", "baseline": "middle", "font": "Liberation Sans", "fontSize": 29, "color": "#000000"}}
      ]
    },
    {
      "width": 355, "height": 403,
      "view": {"fill": "#dce6f1", "stroke": null},
      "encoding": {
        "x": {"datum": 0, "type": "quantitative", "scale": {"domain": [-22, 333], "nice": false}, "axis": null},
        "y": {"field": "line", "type": "quantitative", "scale": {"domain": [0.263, 10.868], "nice": false, "reverse": true}, "axis": null},
        "text": {"field": "text", "type": "nominal"}
      },
      "layer": [
        {"data": {"values": [{"line": 1, "text": "Mideast-"}]},
         "mark": {"type": "text", "align": "left", "baseline": "middle", "font": "Liberation Sans", "fontSize": 29, "fontWeight": "bold", "color": "#000000"}},
        {"data": {"values": [{"line": 2, "text": "Dammam/ Dubai"}]},
         "mark": {"type": "text", "align": "left", "baseline": "middle", "font": "Liberation Sans", "fontSize": 29, "color": "#000000"}}
      ]
    }
    ]
  },
  {
    "width": 355, "height": 423,
    "view": {"fill": "#dce6f1", "stroke": null},
    "encoding": {
      "x": {"datum": 0, "type": "quantitative", "scale": {"domain": [-22, 333], "nice": false}, "axis": null},
      "y": {"field": "line", "type": "quantitative", "scale": {"domain": [0.105, 11.237], "nice": false, "reverse": true}, "axis": null},
      "text": {"field": "text", "type": "nominal"}
    },
    "layer": [
      {"data": {"values": [{"line": 1, "text": "East South America-"}]},
       "mark": {"type": "text", "align": "left", "baseline": "middle", "font": "Liberation Sans", "fontSize": 29, "fontWeight": "bold", "color": "#000000"}},
      {"data": {"values": [{"line": 2, "text": "Santos/ Buenos Aires"}]},
       "mark": {"type": "text", "align": "left", "baseline": "middle", "font": "Liberation Sans", "fontSize": 29, "color": "#000000"}}
    ]
  }
  ]
}
]
}
